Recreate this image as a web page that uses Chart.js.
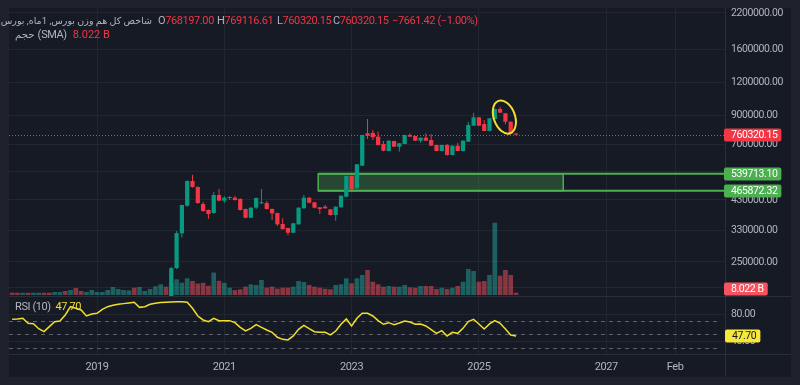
<!DOCTYPE html>
<html lang="fa">
<head>
<meta charset="UTF-8">
<meta name="viewport" content="width=device-width, initial-scale=1.0">
<title>شاخص کل هم وزن بورس</title>
<script src="https://cdn.jsdelivr.net/npm/chart.js@4"></script>
<style>
  html, body { margin: 0; padding: 0; background: #1f222d; }
  #wrap { position: relative; width: 800px; height: 385px; overflow: hidden; background: #1f222d; }
  #pane { position: absolute; left: 9px; top: 8px; width: 782px; height: 369px; background: #161a25; }
  .lg { position: absolute; font: 11px Roboto, "DejaVu Sans", sans-serif; line-height: 14px;
        color: #b2b5be; white-space: nowrap; letter-spacing: -0.4px; }
  .fa { font-size: 10.2px; letter-spacing: 0; }
  .title { font-size: 9.5px; }
  .v { color: #f23645; }
  .ylw { color: #f2df2c; }
</style>
</head>
<body>
<div id="wrap">
  <div id="pane"><canvas id="chart" width="782" height="369"></canvas></div>
  <span class="lg fa title" dir="rtl" style="right:648px; top:14px">شاخص کل هم وزن بورس, 1ماه, بورس</span>
  <span class="lg" style="left:158px; top:14px">O<span class="v" id="lgO"></span></span>
  <span class="lg" style="left:217px; top:14px">H<span class="v" id="lgH"></span></span>
  <span class="lg" style="left:277px; top:14px">L<span class="v" id="lgL"></span></span>
  <span class="lg" style="left:333px; top:14px">C<span class="v" id="lgC"></span></span>
  <span class="lg v" style="left:392px; top:14px" id="lgChg"></span>
  <span class="lg" style="left:15px; top:28px"><span class="fa">حجم</span> (SMA)&nbsp;&nbsp;<span class="v" id="lgVol"></span></span>
  <span class="lg" style="left:15px; top:300px">RSI (10)&nbsp;&nbsp;<span class="ylw" id="lgRsi"></span></span>
</div>

<script>
  // monthly candles, first month of the series
  const firstMonth = '2017-09';

  // time axis
  const timeTickMonths = ['2019-01', '2021-01', '2023-01', '2025-01', '2027-01', '2028-02'];
  const timeTickLabels = ['2019', '2021', '2023', '2025', '2027', 'Feb'];

  // price axis (log)
  const priceTicks = [200000, 250000, 330000, 430000, 550000, 700000, 900000, 1200000, 1600000, 2200000];

  // candles visible in the price pane start here (earlier ones sit below the pane)
  const candleFirst = '2020-03';
  const opens = [172000, 237000, 321000, 408700, 507000, 481100, 414900, 393700, 383400, 448800,
    427100, 437100, 438300, 433300, 397100, 368000, 401700, 417400, 418500, 397100,
    383400, 348300, 336300, 322700, 347300, 399500, 438300, 421000, 403000, 405200,
    396000, 376800, 403000, 442100, 529600, 475800, 579700, 769400, 772000, 746900,
    700600, 659200, 719000, 684400, 700600, 758100, 751500, 721200, 740400, 725600,
    694500, 659200, 694500, 636500, 690400, 659200, 714900, 822200, 884700, 834500,
    785000, 871600, 951200, 916000, 851300, 768197.00];
  const highs = [240000, 328000, 412000, 510000, 535800, 484000, 422200, 395000, 460700, 473000,
    444800, 444000, 444800, 436000, 399000, 403000, 439000, 473000, 425900, 399000,
    384000, 366000, 337000, 352000, 403000, 448800, 440000, 422000, 404000, 411300,
    397000, 406000, 447000, 531000, 531000, 588000, 760000, 871600, 791600, 781000,
    719000, 723000, 721000, 707000, 760000, 769400, 753000, 742000, 769400, 764700,
    696000, 696000, 700600, 692000, 708700, 723000, 849100, 920900, 887000, 864000,
    879000, 953000, 970600, 918000, 853000, 769116.61];
  const lows = [168000, 235000, 309700, 405000, 478000, 416000, 388000, 364700, 381000, 425000,
    418500, 429700, 428000, 392000, 366000, 366000, 397100, 414900, 395000, 360800,
    342300, 332000, 315900, 321000, 346000, 398000, 418000, 400000, 380100, 398000,
    375000, 358400, 402000, 440000, 470000, 474000, 578000, 732000, 725600, 692000,
    658000, 657000, 682000, 655800, 699000, 745000, 719000, 708700, 719000, 689000,
    657000, 657000, 634000, 634000, 657000, 655800, 713000, 820000, 820000, 783000,
    783000, 870000, 919000, 832000, 763000, 760320.15];
  const closes = [237000, 321700, 411300, 507100, 481100, 418500, 390200, 380100, 448800, 427100,
    438300, 440000, 429700, 393700, 368000, 401700, 437100, 421000, 397100, 382300,
    347300, 333100, 322700, 350500, 401700, 438300, 419600, 401700, 397100, 399500,
    376800, 405200, 446000, 529600, 471700, 586800, 758100, 753400, 743000, 694500,
    660900, 721200, 684400, 705000, 758100, 746900, 721200, 740400, 721200, 690400,
    659200, 694500, 636500, 690400, 659200, 721200, 827200, 884700, 822200, 785000,
    876900, 951200, 920900, 851300, 767981.57, 760320.15];

  // up/down of the months before candleFirst
  const earlyDirection = 'dduduudduududduuuuuuuuudu' + 'uuuu';

  // volume, billions
  const volumes = [8.0, 8.0, 8.0, 8.0, 8.0, 8.0, 8.0, 8.0, 10.5, 10.5,
    14, 17.5, 24.4, 14, 10.5, 17.5, 10.5, 10.5, 17.5, 27.9,
    20.9, 17.5, 16.4, 25.5, 27.9, 14, 20.9, 30.4, 37.3, 29,
    41.9, 54.8, 42.9, 58.3, 48.9, 40.1, 42.6, 32.1, 78.5, 49.6,
    42.6, 25.5, 16.8, 19.9, 29, 37.3, 34.9, 52.4, 25.5, 29,
    22, 25.5, 25.5, 29, 48.9, 45.4, 34.9, 29, 25.5, 22,
    19.9, 34.9, 37.7, 58.3, 40.8, 58.3, 69.8, 87.3, 46.4, 37.3,
    29, 31.4, 29, 29, 34.9, 26.9, 25.5, 31.4, 31.4, 31.4,
    20.9, 25.5, 20.9, 25.5, 31.4, 46.4, 90.7, 83.8, 46.4, 48.9,
    69.8, 252.3, 67.4, 87.3, 69.8, 8.022];

  // RSI (10)
  const rsiValues = [72.5, 73, 74, 66.5, 66, 58.6, 54.2, 61.6, 69, 70,
    78.9, 91.2, 88.8, 86.3, 77.4, 80.4, 81.4, 87.3, 91.2, 93.2,
    94.7, 95.7, 96.7, 97.7, 90.2, 91.2, 94.7, 96.2, 97.2, 97.7,
    98.1, 98.6, 98.6, 97.7, 88.8, 77.4, 71.5, 69, 74, 70.5,
    70.5, 70.5, 67.5, 60.6, 55.2, 59.1, 64.6, 60.6, 56.7, 53.2,
    45.8, 42.8, 41.9, 47.8, 57.7, 63.6, 58.6, 54.2, 53.2, 53.2,
    49.3, 55.2, 65.1, 73, 62.6, 74, 81.4, 81.4, 77.4, 70.5,
    65.1, 67.5, 64.6, 67, 70, 68.5, 65.1, 65.6, 62.6, 57.2,
    51.7, 55.7, 47.8, 53.2, 51.7, 59.1, 69, 72.5, 65.6, 58.1,
    65.6, 70.5, 66.5, 58.1, 49.3, 47.70];
  const rsiTicks = [40, 80];
  const rsiBands = [70, 50, 30];

  // drawings: support zone and the circled candles (month index / price)
  const zoneFrom = 57.7, zoneTo = 103.9;
  const zoneHigh = 539713.10, zoneLow = 465872.32;
  const markFrom = 90.8, markTo = 94.8, markHigh = 1030000, markLow = 763000;

  const UP = '#089981', DOWN = '#f23645';
  const GRID = '#22262f';
  const AXIS_FONT = '10.5px Roboto, "DejaVu Sans", sans-serif';

  const base = (() => { const [y, m] = firstMonth.split('-').map(Number); return y * 12 + m - 1; })();
  const idx = s => { const [y, m] = s.split('-').map(Number); return y * 12 + m - 1 - base; };
  const start = idx(candleFirst);
  const isUp = i => i >= start ? closes[i - start] >= opens[i - start] : earlyDirection[i] === 'u';

  const wickData = opens.map((o, k) => ({ x: start + k, y: [lows[k], highs[k]] }));
  const bodyData = opens.map((o, k) => ({ x: start + k, y: [o, closes[k]] }));
  const candleColors = opens.map((o, k) => closes[k] >= o ? UP : DOWN);
  const volData = volumes.map((v, i) => ({ x: i, y: v }));
  const volColors = volumes.map((v, i) => isUp(i) ? 'rgba(38,166,154,0.5)' : 'rgba(247,82,95,0.5)');
  const rsiData = rsiValues.map((v, i) => ({ x: i, y: v }));

  const n = closes.length;
  const lastClose = closes[n - 1];
  const change = lastClose - closes[n - 2];
  const fmtSigned = v => (v < 0 ? '\u2212' : '+') + Math.abs(v).toFixed(2);
  document.getElementById('lgO').textContent = opens[n - 1].toFixed(2);
  document.getElementById('lgH').textContent = highs[n - 1].toFixed(2);
  document.getElementById('lgL').textContent = lows[n - 1].toFixed(2);
  document.getElementById('lgC').textContent = lastClose.toFixed(2);
  document.getElementById('lgChg').textContent =
    fmtSigned(change) + ' (' + fmtSigned(change / closes[n - 2] * 100) + '%)';
  const lastVol = volumes[volumes.length - 1];
  document.getElementById('lgVol').textContent = lastVol.toFixed(3) + ' B';
  const lastRsi = rsiValues[rsiValues.length - 1];
  document.getElementById('lgRsi').textContent = lastRsi.toFixed(2);

  function tag(ctx, x, yc, text, bg, fg) {
    ctx.font = AXIS_FONT;
    const w = ctx.measureText(text).width + 11;
    ctx.fillStyle = bg;
    ctx.beginPath();
    if (ctx.roundRect) ctx.roundRect(x, Math.round(yc) - 6.5, w, 13, 2); else ctx.rect(x, Math.round(yc) - 6.5, w, 13);
    ctx.fill();
    ctx.fillStyle = fg;
    ctx.textAlign = 'left';
    ctx.textBaseline = 'middle';
    ctx.fillText(text, x + 7, Math.round(yc) + 0.5);
  }

  const decor = {
    id: 'decor',
    beforeDatasetsDraw(chart) {
      const { ctx, chartArea: a, scales: { x, y, rsi } } = chart;
      ctx.save();
      ctx.strokeStyle = '#5d606b';
      ctx.lineWidth = 1;
      ctx.setLineDash([4, 4]);
      rsiBands.forEach(v => {
        const py = Math.round(rsi.getPixelForValue(v)) + 0.5;
        ctx.beginPath(); ctx.moveTo(a.left, py); ctx.lineTo(a.right - 5, py); ctx.stroke();
      });
      ctx.setLineDash([]);

      const zx0 = x.getPixelForValue(zoneFrom), zx1 = x.getPixelForValue(zoneTo);
      const zy0 = y.getPixelForValue(zoneHigh), zy1 = y.getPixelForValue(zoneLow);
      ctx.fillStyle = 'rgba(76,175,80,0.3)';
      ctx.fillRect(zx0, zy0, zx1 - zx0, zy1 - zy0);
      ctx.strokeStyle = '#4caf50';
      ctx.lineWidth = 1.5;
      ctx.strokeRect(zx0, zy0, zx1 - zx0, zy1 - zy0);
      ctx.lineWidth = 2;
      [zy0, zy1].forEach(py => { ctx.beginPath(); ctx.moveTo(zx0, py); ctx.lineTo(a.right, py); ctx.stroke(); });

      const pl = Math.round(y.getPixelForValue(lastClose)) + 0.5;
      ctx.strokeStyle = DOWN;
      ctx.lineWidth = 1;
      ctx.setLineDash([1, 2]);
      ctx.beginPath(); ctx.moveTo(a.left, pl); ctx.lineTo(a.right, pl); ctx.stroke();
      ctx.restore();
    },
    afterDatasetsDraw(chart) {
      const { ctx, scales: { x, y } } = chart;
      const ex0 = x.getPixelForValue(markFrom), ex1 = x.getPixelForValue(markTo);
      const ey0 = y.getPixelForValue(markHigh), ey1 = y.getPixelForValue(markLow);
      ctx.save();
      ctx.strokeStyle = '#f2df2c';
      ctx.lineWidth = 2;
      ctx.beginPath();
      ctx.ellipse((ex0 + ex1) / 2, (ey0 + ey1) / 2, (ex1 - ex0) / 2, (ey1 - ey0) / 2, -0.35, 0, Math.PI * 2);
      ctx.stroke();
      ctx.restore();
    },
    afterDraw(chart) {
      const { ctx, chartArea: a, scales: { x, y, rsi, vol } } = chart;
      ctx.save();
      ctx.strokeStyle = '#2a2e39';
      ctx.lineWidth = 1;
      [y.bottom, rsi.bottom].forEach(py => {
        const p = Math.round(py) + 0.5;
        ctx.beginPath(); ctx.moveTo(0, p); ctx.lineTo(chart.width, p); ctx.stroke();
      });
      const vx = Math.round(a.right) + 0.5;
      ctx.beginPath(); ctx.moveTo(vx, 0); ctx.lineTo(vx, chart.height); ctx.stroke();

      // axis tags, price pane first
      const tags = [
        [y.getPixelForValue(lastClose), lastClose.toFixed(2), DOWN, '#ffffff'],
        [y.getPixelForValue(zoneHigh), zoneHigh.toFixed(2), '#4caf50', '#ffffff'],
        [y.getPixelForValue(zoneLow), zoneLow.toFixed(2), '#4caf50', '#ffffff'],
        [Math.min(vol.getPixelForValue(lastVol), y.bottom - 7), lastVol.toFixed(3) + ' B', '#f7525f', '#ffffff']
      ];
      const hidden = py => tags.some(t => Math.abs(t[0] - py) < 4);

      ctx.font = AXIS_FONT;
      if ('letterSpacing' in ctx) ctx.letterSpacing = '-0.4px';
      ctx.fillStyle = '#b2b5be';
      ctx.textAlign = 'left';
      ctx.textBaseline = 'middle';
      y.ticks.forEach(t => {
        const py = y.getPixelForValue(t.value);
        if (py >= y.top && py <= y.bottom && !hidden(py)) ctx.fillText(t.value.toFixed(2), a.right + 6, py);
      });
      rsi.ticks.forEach(t => ctx.fillText(t.value.toFixed(2), a.right + 6, rsi.getPixelForValue(t.value)));
      ctx.textAlign = 'center';
      ctx.font = '11px Roboto, "DejaVu Sans", sans-serif';
      x.ticks.forEach((t, k) => ctx.fillText(timeTickLabels[k], x.getPixelForValue(t.value), a.bottom + 13));

      const tx = a.right - 1;
      tags.forEach(t => tag(ctx, tx, t[0], t[1], t[2], t[3]));
      tag(ctx, tx + 1, rsi.getPixelForValue(lastRsi), lastRsi.toFixed(2), '#f5e83a', '#131722');
      ctx.restore();
    }
  };

  new Chart(document.getElementById('chart'), {
    type: 'bar',
    data: {
      datasets: [
        { label: 'vol', data: volData, yAxisID: 'vol', backgroundColor: volColors, borderWidth: 0,
          grouped: false, categoryPercentage: 1, barPercentage: 0.88, order: 3 },
        { label: 'wick', data: wickData, yAxisID: 'y', backgroundColor: candleColors, borderWidth: 0,
          grouped: false, categoryPercentage: 1, barPercentage: 0.5, maxBarThickness: 1, order: 2 },
        { label: 'body', data: bodyData, yAxisID: 'y', backgroundColor: candleColors, borderWidth: 0,
          grouped: false, categoryPercentage: 1, barPercentage: 0.8, minBarLength: 1, order: 1 },
        { type: 'line', label: 'RSI', data: rsiData, yAxisID: 'rsi', borderColor: '#f2df2c',
          borderWidth: 1.5, pointRadius: 0, tension: 0, order: 0 }
      ]
    },
    options: {
      responsive: false,
      animation: false,
      devicePixelRatio: 1,
      events: [],
      layout: { padding: 0 },
      plugins: { legend: { display: false }, tooltip: { enabled: false } },
      scales: {
        x: {
          type: 'linear', min: -0.6, max: 134.4, offset: false,
          grid: { color: GRID, drawTicks: false, offset: false },
          border: { display: false },
          ticks: { display: false },
          afterBuildTicks: s => { s.ticks = timeTickMonths.map(m => ({ value: idx(m) })); },
          afterFit: s => { s.height = 23; }
        },
        y: {
          type: 'logarithmic', position: 'right', stack: 'panes', stackWeight: 288,
          min: 185720, max: 2298200,
          grid: { color: GRID, drawTicks: false },
          border: { display: false },
          ticks: { display: false },
          afterBuildTicks: s => { s.ticks = priceTicks.map(v => ({ value: v })); },
          afterFit: s => { s.width = 66; }
        },
        rsi: {
          type: 'linear', position: 'right', stack: 'panes', stackWeight: 58,
          min: 21.1, max: 107,
          grid: { color: GRID, drawTicks: false },
          border: { display: false },
          ticks: { display: false },
          afterBuildTicks: s => { s.ticks = rsiTicks.map(v => ({ value: v })); },
          afterFit: s => { s.width = 66; }
        },
        vol: {
          type: 'linear', position: 'left', display: false,
          min: -205.9, max: 1001.6
        }
      }
    },
    plugins: [decor]
  });
</script>
</body>
</html>
